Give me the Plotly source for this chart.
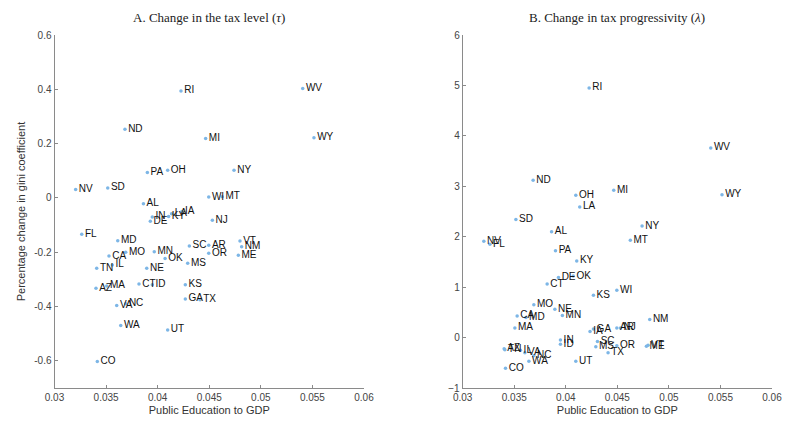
import plotly.graph_objects as go

states = ["RI", "ND", "MI", "PA", "OH", "NY", "NV", "SD", "WI", "MT", "AL", "IN", "DE", "KY", "LA", "IA",
          "NJ", "FL", "MD", "SC", "AR", "OR", "CA", "MO", "MN", "OK", "MS", "TN", "IL", "NE", "AZ", "MA",
          "CT", "ID", "KS", "GA", "TX", "VA", "NC", "WA", "UT", "CO", "VT", "NM", "ME", "WV", "WY"]

edu_gdp = [0.04226, 0.03683, 0.04465, 0.03900, 0.04097, 0.04740, 0.03205, 0.03516, 0.04495, 0.04626,
           0.03862, 0.03948, 0.03929, 0.04106, 0.04135, 0.04235, 0.04530, 0.03264, 0.03613, 0.04307,
           0.04495, 0.04495, 0.03528, 0.03690, 0.03967, 0.04072, 0.04291, 0.03409, 0.03560, 0.03894,
           0.03402, 0.03506, 0.03819, 0.03948, 0.04268, 0.04268, 0.04410, 0.03603, 0.03690, 0.03642,
           0.04097, 0.03415, 0.04798, 0.04814, 0.04782, 0.05406, 0.05515]

gini_tau = [0.394, 0.253, 0.219, 0.094, 0.102, 0.102, 0.031, 0.037, 0.003, 0.004,
            -0.021, -0.070, -0.086, -0.068, -0.058, -0.050, -0.082, -0.134, -0.158, -0.177,
            -0.174, -0.204, -0.214, -0.200, -0.198, -0.223, -0.241, -0.259, -0.247, -0.259,
            -0.333, -0.324, -0.317, -0.320, -0.320, -0.372, -0.375, -0.396, -0.390, -0.470,
            -0.486, -0.602, -0.159, -0.180, -0.211, 0.403, 0.222]

gini_lambda = [4.95, 3.12, 2.92, 1.72, 2.82, 2.21, 1.91, 2.34, 0.94, 1.93,
               2.10, -0.05, 1.19, 1.52, 2.59, 0.12, 0.19, 1.85, 0.40, -0.08,
               0.19, -0.16, 0.43, 0.65, 0.44, 1.22, -0.18, -0.24, -0.25, 0.56,
               -0.22, 0.19, 1.06, -0.13, 0.84, 0.17, -0.30, -0.30, -0.36, -0.47,
               -0.47, -0.61, -0.15, 0.36, -0.17, 3.76, 2.83]

x_ticks = [0.03, 0.035, 0.04, 0.045, 0.05, 0.055, 0.06]
x_tick_text = ["0.03", "0.035", "0.04", "0.045", "0.05", "0.055", "0.06"]
y1_ticks = [-0.6, -0.4, -0.2, 0, 0.2, 0.4, 0.6]
y1_tick_text = ["-0.6", "-0.4", "-0.2", "0", "0.2", "0.4", "0.6"]
y2_ticks = [-1, 0, 1, 2, 3, 4, 5, 6]

W, H = 803, 428
dot_color = "#7db6e6"
axis_color = "#8a8a8a"
tick_color = "#444444"
font_sans = "Liberation Sans, Arial, sans-serif"
font_serif = "Liberation Serif, DejaVu Serif, serif"

fig = go.Figure()
for xa, ya, yv in (("x", "y", gini_tau), ("x2", "y2", gini_lambda)):
    fig.add_trace(go.Scatter(
        x=edu_gdp, y=yv, text=states, mode="markers+text",
        textposition="middle right", textfont=dict(family=font_sans, size=10, color="#111111"),
        marker=dict(size=3.5, color=dot_color), xaxis=xa, yaxis=ya, showlegend=False, cliponaxis=False))

top = 1 - 35 / H
bot = 1 - 388 / H
d1 = [54.5 / W, 364 / W]
d2 = [462.7 / W, 772 / W]

axis_common = dict(showgrid=False, zeroline=False, showline=True, linecolor=axis_color, linewidth=1,
                   ticks="inside", ticklen=3, tickcolor=axis_color, automargin=False,
                   tickfont=dict(family=font_sans, size=10, color=tick_color))
title_font = dict(family=font_sans, size=11, color="#333333")

fig.update_layout(
    template="none",
    width=W, height=H, margin=dict(l=0, r=0, t=0, b=0),
    paper_bgcolor="white", plot_bgcolor="white",
    xaxis=dict(domain=d1, range=[0.03, 0.06], tickvals=x_ticks, ticktext=x_tick_text, anchor="y",
               title=dict(text="Public Education to GDP", font=title_font, standoff=4),
               **axis_common),
    yaxis=dict(domain=[bot, top], range=[-0.7, 0.6], tickvals=y1_ticks, ticktext=y1_tick_text, anchor="x",
               title=dict(text="Percentage change in gini coefficient", font=title_font, standoff=6),
               **axis_common),
    xaxis2=dict(domain=d2, range=[0.03, 0.06], tickvals=x_ticks, ticktext=x_tick_text, anchor="y2",
                title=dict(text="Public Education to GDP", font=title_font, standoff=4),
                **axis_common),
    yaxis2=dict(domain=[bot, top], range=[-1, 6], tickvals=y2_ticks, anchor="x2", **axis_common),
    annotations=[
        dict(text="A. Change in the tax level (<i>τ</i>)", x=(d1[0] + d1[1]) / 2, y=1 - 17 / H,
             xref="paper", yref="paper", showarrow=False, xanchor="center", yanchor="middle",
             font=dict(family=font_serif, size=13, color="#222222")),
        dict(text="B. Change in tax progressivity (<i>λ</i>)", x=(d2[0] + d2[1]) / 2, y=1 - 17 / H,
             xref="paper", yref="paper", showarrow=False, xanchor="center", yanchor="middle",
             font=dict(family=font_serif, size=13, color="#222222")),
    ],
)

fig.write_html("out.html")
